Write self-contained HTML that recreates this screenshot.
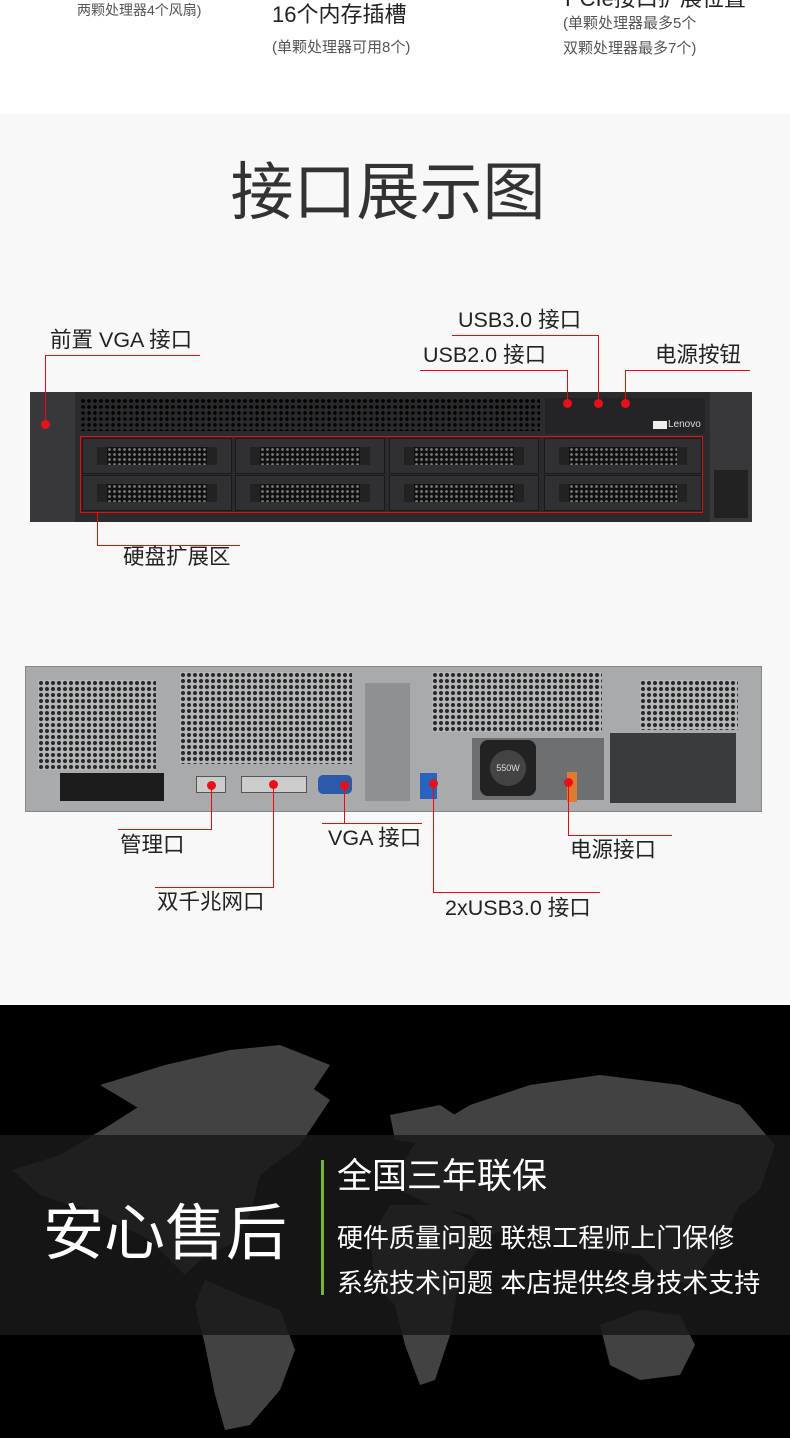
<!DOCTYPE html>
<html><head><meta charset="utf-8"><style>
*{margin:0;padding:0;box-sizing:border-box}
body{width:790px;height:1438px;position:relative;overflow:hidden;background:#fff;font-family:"Liberation Sans","Noto Sans CJK SC",sans-serif;color:#222}
.a{position:absolute}
.t{position:absolute;white-space:nowrap;line-height:1}
.r{position:absolute;background:#e01010}
.d{position:absolute;width:9px;height:9px;border-radius:50%;background:#e8101a}
.hex{background-color:#2a2a2c;background-image:radial-gradient(circle,#000 1.6px,transparent 2px);background-size:6px 6px}
.hexl{background-color:#b5b6b8;background-image:radial-gradient(circle,#2a2a2a 1.8px,transparent 2.3px);background-size:6px 6px}
.bay{position:absolute;background:#303033;border:1px solid #1a1a1a}
.bay i{position:absolute;left:14px;right:14px;top:8px;bottom:8px;background-color:#111;background-image:radial-gradient(circle,#777 1.2px,transparent 1.6px);background-size:5px 5px;border-left:10px solid #222;border-right:10px solid #222}
.l{font-size:21.5px}
</style></head><body>
<div class="t" style="left:77px;top:3px;font-size:14px;color:#555">两颗处理器4个风扇)</div>
<div class="t" style="left:272px;top:4px;font-size:22px;color:#222">16个内存插槽</div>
<div class="t" style="left:272px;top:40px;font-size:15px;color:#555">(单颗处理器可用8个)</div>
<div class="t" style="left:565px;top:-12px;font-size:22px;color:#222">PCIe接口扩展位置</div>
<div class="t" style="left:563px;top:16px;font-size:15px;color:#555">(单颗处理器最多5个</div>
<div class="t" style="left:563px;top:41px;font-size:15px;color:#555">双颗处理器最多7个)</div>
<div class="a" style="left:0;top:114px;width:790px;height:891px;background:#f8f8f8"></div>
<div class="t" style="left:0;width:776px;text-align:center;top:162px;font-size:63px;color:#333">接口展示图</div>

<div class="a" style="left:30px;top:392px;width:722px;height:130px;background:#2b2b2e;border-radius:2px"></div>
<div class="a" style="left:30px;top:392px;width:45px;height:130px;background:#38383b"></div>
<div class="a" style="left:710px;top:392px;width:42px;height:130px;background:#38383b"></div>
<div class="a" style="left:714px;top:470px;width:34px;height:48px;background:#222"></div>
<div class="a hex" style="left:80px;top:398px;width:460px;height:33px"></div>
<div class="a" style="left:545px;top:398px;width:160px;height:36px;background:#242426"></div>
<div class="t" style="left:668px;top:420px;font-size:10px;color:#ddd">Lenovo</div>
<div class="a" style="left:653px;top:421px;width:14px;height:8px;background:#eee"></div>
<div class="bay" style="left:82px;top:438px;width:150px;height:36px"><i></i></div>
<div class="bay" style="left:235px;top:438px;width:150px;height:36px"><i></i></div>
<div class="bay" style="left:389px;top:438px;width:150px;height:36px"><i></i></div>
<div class="bay" style="left:544px;top:438px;width:158px;height:36px"><i></i></div>
<div class="bay" style="left:82px;top:475px;width:150px;height:36px"><i></i></div>
<div class="bay" style="left:235px;top:475px;width:150px;height:36px"><i></i></div>
<div class="bay" style="left:389px;top:475px;width:150px;height:36px"><i></i></div>
<div class="bay" style="left:544px;top:475px;width:158px;height:36px"><i></i></div>
<div class="a" style="left:80px;top:436px;width:623px;height:77px;border:1px solid #e01010"></div>
<div class="t l" style="left:50px;top:330px">前置 VGA 接口</div>
<div class="r" style="left:45px;top:355px;width:155px;height:1px"></div>
<div class="r" style="left:45px;top:355px;width:1px;height:68px"></div>
<div class="d" style="left:41px;top:420px"></div>
<div class="t l" style="left:458px;top:310px">USB3.0 接口</div>
<div class="r" style="left:452px;top:335px;width:146px;height:1px"></div>
<div class="r" style="left:598px;top:335px;width:1px;height:68px"></div>
<div class="d" style="left:594px;top:399px"></div>
<div class="t l" style="left:423px;top:345px">USB2.0 接口</div>
<div class="r" style="left:420px;top:370px;width:147px;height:1px"></div>
<div class="r" style="left:567px;top:370px;width:1px;height:33px"></div>
<div class="d" style="left:563px;top:399px"></div>
<div class="t l" style="left:655px;top:345px">电源按钮</div>
<div class="r" style="left:625px;top:370px;width:125px;height:1px"></div>
<div class="r" style="left:625px;top:370px;width:1px;height:33px"></div>
<div class="d" style="left:621px;top:399px"></div>
<div class="r" style="left:97px;top:513px;width:1px;height:32px"></div>
<div class="r" style="left:97px;top:545px;width:143px;height:1px"></div>
<div class="t l" style="left:123px;top:547px">硬盘扩展区</div>

<div class="a" style="left:25px;top:666px;width:737px;height:146px;background:#a9aaac;border:1px solid #888"></div>
<div class="a hexl" style="left:38px;top:680px;width:118px;height:90px"></div>
<div class="a hexl" style="left:180px;top:672px;width:172px;height:92px"></div>
<div class="a hexl" style="left:432px;top:672px;width:170px;height:60px"></div>
<div class="a hexl" style="left:640px;top:680px;width:98px;height:50px"></div>
<div class="a" style="left:60px;top:773px;width:104px;height:28px;background:#1c1c1c"></div>
<div class="a" style="left:610px;top:733px;width:126px;height:70px;background:#3a3b3d"></div>
<div class="a" style="left:472px;top:738px;width:132px;height:62px;background:#6e6f71"></div>
<div class="a" style="left:480px;top:740px;width:56px;height:56px;background:#222;border-radius:8px"></div>
<div class="a" style="left:490px;top:750px;width:36px;height:36px;background:#444;border-radius:50%;color:#ddd;font-size:9px;text-align:center;line-height:36px">550W</div>
<div class="a" style="left:365px;top:683px;width:45px;height:118px;background:#8f9092"></div>
<div class="a" style="left:196px;top:776px;width:30px;height:17px;background:#ccc;border:1px solid #555"></div>
<div class="a" style="left:241px;top:776px;width:66px;height:17px;background:#ccc;border:1px solid #555"></div>
<div class="a" style="left:318px;top:775px;width:34px;height:19px;background:#2c5aa8;border-radius:5px"></div>
<div class="a" style="left:420px;top:773px;width:17px;height:26px;background:#2a62c0"></div>
<div class="a" style="left:567px;top:772px;width:10px;height:30px;background:#e07a30"></div>
<div class="d" style="left:207px;top:781px"></div>
<div class="r" style="left:211px;top:785px;width:1px;height:44px"></div>
<div class="r" style="left:118px;top:829px;width:94px;height:1px"></div>
<div class="t l" style="left:120px;top:835px">管理口</div>
<div class="d" style="left:269px;top:780px"></div>
<div class="r" style="left:273px;top:784px;width:1px;height:103px"></div>
<div class="r" style="left:155px;top:887px;width:119px;height:1px"></div>
<div class="t l" style="left:157px;top:892px">双千兆网口</div>
<div class="d" style="left:340px;top:781px"></div>
<div class="r" style="left:344px;top:785px;width:1px;height:38px"></div>
<div class="r" style="left:322px;top:823px;width:100px;height:1px"></div>
<div class="t l" style="left:328px;top:828px">VGA 接口</div>
<div class="d" style="left:429px;top:779px"></div>
<div class="r" style="left:433px;top:783px;width:1px;height:109px"></div>
<div class="r" style="left:433px;top:892px;width:167px;height:1px"></div>
<div class="t l" style="left:445px;top:898px">2xUSB3.0 接口</div>
<div class="d" style="left:564px;top:778px"></div>
<div class="r" style="left:568px;top:782px;width:1px;height:53px"></div>
<div class="r" style="left:568px;top:835px;width:104px;height:1px"></div>
<div class="t l" style="left:570px;top:840px">电源接口</div>

<div class="a" style="left:0;top:1005px;width:790px;height:433px;background:#000"></div>
<svg class="a" style="left:0;top:1005px" width="790" height="433" viewBox="0 0 790 433">
<g fill="#424242">
<path d="M12 165 L60 150 L110 120 L160 88 L230 75 L290 68 L330 95 L300 140 L260 170 L250 210 L230 240 L205 250 L185 270 L175 260 L150 235 L120 220 L95 205 L70 200 L40 190 Z"/>
<path d="M100 80 L165 60 L230 45 L280 40 L330 60 L310 90 L250 95 L200 105 L150 110 Z"/>
<path d="M205 275 L240 290 L280 305 L295 345 L280 385 L250 420 L225 425 L215 390 L205 340 L195 300 Z"/>
<path d="M390 180 L420 130 L470 100 L530 80 L600 70 L680 80 L740 100 L775 140 L760 185 L740 200 L720 240 L690 280 L660 270 L640 250 L600 245 L560 240 L520 220 L490 230 L470 210 L430 200 Z"/>
<path d="M390 200 L440 200 L470 215 L480 240 L460 270 L450 330 L435 375 L420 380 L405 340 L395 300 L375 280 L370 235 Z"/>
<path d="M600 320 L640 305 L680 310 L695 340 L680 370 L640 375 L610 360 Z"/>
<path d="M390 110 L440 100 L470 120 L430 140 L395 135 Z"/>
</g>
</svg>
<div class="a" style="left:0;top:1135px;width:790px;height:200px;background:rgba(25,25,25,0.85)"></div>
<div class="t" style="left:43px;top:1203px;font-size:61px;color:#fff">安心售后</div>
<div class="a" style="left:321px;top:1160px;width:3px;height:135px;background:#7ab32e"></div>
<div class="t" style="left:337px;top:1159px;font-size:35px;color:#fff">全国三年联保</div>
<div class="t" style="left:337px;top:1225px;font-size:26px;color:#fff">硬件质量问题 联想工程师上门保修</div>
<div class="t" style="left:337px;top:1270px;font-size:26px;color:#fff">系统技术问题 本店提供终身技术支持</div>
</body></html>
